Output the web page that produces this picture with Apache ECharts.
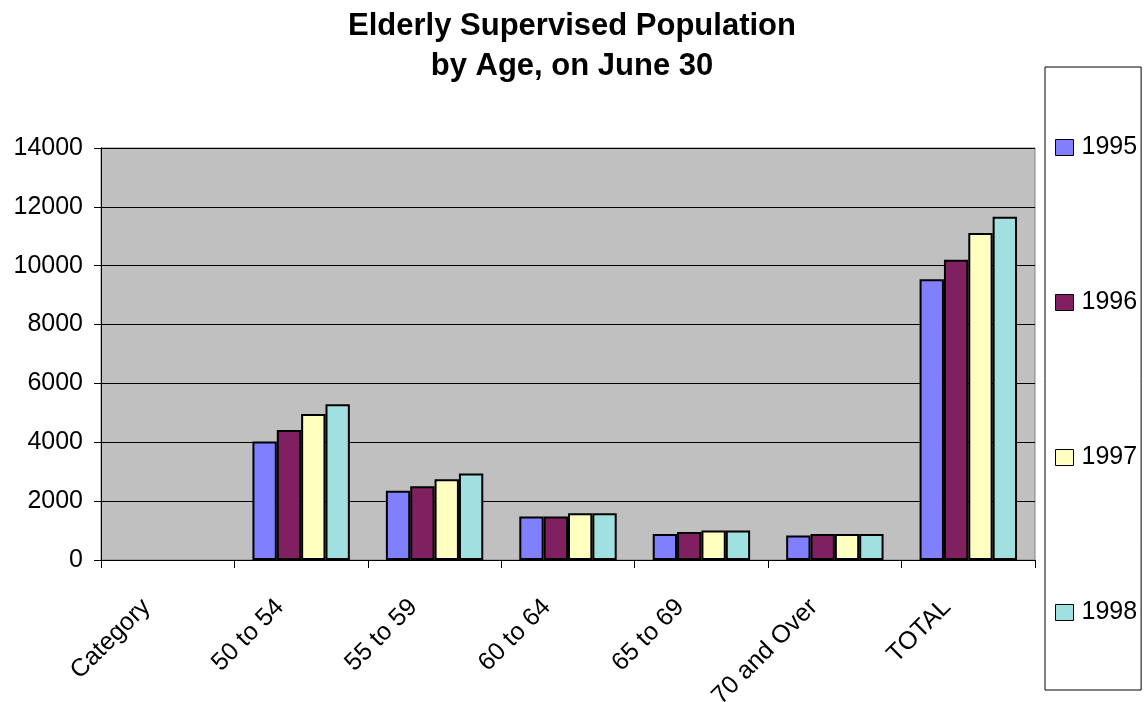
<!DOCTYPE html>
<html>
<head>
<meta charset="utf-8">
<script src="https://cdn.jsdelivr.net/npm/echarts@6/dist/echarts.min.js"></script>
<style>
  html, body { margin: 0; padding: 0; background: #ffffff; }
  #chart { width: 1144px; height: 702px; }
</style>
</head>
<body>
<div id="chart"></div>
<script>
// Age groups on the category axis
const categories = ['Category', '50 to 54', '55 to 59', '60 to 64', '65 to 69', '70 and Over', 'TOTAL'];
const years = ['1995', '1996', '1997', '1998'];

// Supervised population counts per year
const pop1995 = [null, 4030, 2350, 1480, 880, 830, 9540];
const pop1996 = [null, 4420, 2510, 1480, 950, 880, 10200];
const pop1997 = [null, 4960, 2740, 1590, 1000, 880, 11110];
const pop1998 = [null, 5290, 2940, 1590, 1000, 880, 11660];

const yTicks = { min: 0, max: 14000, interval: 2000 };

const colors = ['#8080FF', '#802060', '#FFFFC0', '#A0E0E0'];
const seriesData = [pop1995, pop1996, pop1997, pop1998];

const font = 'Liberation Sans, Arial, sans-serif';
const chart = echarts.init(document.getElementById('chart'));

chart.setOption({
  backgroundColor: '#ffffff',
  animation: false,
  color: colors,
  title: {
    text: 'Elderly Supervised Population\nby Age, on June 30',
    left: 'center',
    top: 1,
    textStyle: {
      fontFamily: font,
      fontSize: 31,
      fontWeight: 'bold',
      color: '#000',
      lineHeight: 40
    }
  },
  legend: {
    orient: 'vertical',
    left: 1045,
    top: 67,
    padding: [68, 4, 65, 10],
    itemGap: 130,
    itemWidth: 18,
    itemHeight: 16,
    borderColor: '#000',
    borderWidth: 1,
    textStyle: { fontFamily: font, fontSize: 25, lineHeight: 25, color: '#000', padding: [0, 0, 0, 3] },
    data: years.map(y => ({ name: y, icon: 'rect', itemStyle: { borderColor: '#000', borderWidth: 1 } }))
  },
  grid: {
    left: 101,
    right: 109,
    top: 148,
    bottom: 142,
    containLabel: false,
    outerBoundsMode: 'none',
    show: true,
    backgroundColor: '#C0C0C0',
    borderColor: '#808080',
    borderWidth: 1
  },
  xAxis: {
    type: 'category',
    data: categories,
    axisLine: { lineStyle: { color: '#000', width: 1 } },
    axisTick: { show: true, length: 8, lineStyle: { color: '#000' } },
    axisLabel: {
      rotate: 45,
      margin: 22,
      padding: [0, 30, 0, 0],
      fontFamily: font,
      fontSize: 25,
      color: '#000'
    }
  },
  yAxis: {
    type: 'value',
    min: yTicks.min,
    max: yTicks.max,
    interval: yTicks.interval,
    axisLine: { show: true, lineStyle: { color: '#000', width: 1 } },
    axisTick: { show: true, length: 7, lineStyle: { color: '#000' } },
    axisLabel: {
      fontFamily: font,
      fontSize: 25,
      color: '#000',
      margin: 18,
      formatter: v => String(v)
    },
    splitLine: { show: true, lineStyle: { color: '#000', width: 1 } }
  },
  series: years.map((y, i) => ({
    name: y,
    type: 'bar',
    data: seriesData[i],
    barGap: '0%',
    barCategoryGap: '27%',
    itemStyle: { color: colors[i], borderColor: '#000', borderWidth: 2 }
  }))
});
</script>
</body>
</html>
